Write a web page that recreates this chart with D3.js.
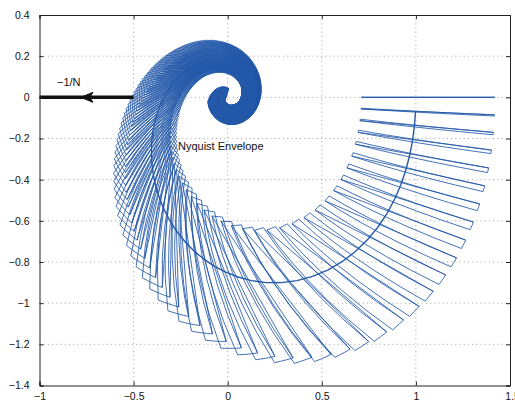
<!DOCTYPE html>
<html>
<head>
<meta charset="utf-8">
<script src="https://cdn.jsdelivr.net/npm/d3@7"></script>
<style>
  html, body { margin: 0; padding: 0; background: #fff; }
  svg { display: block; }
  text { font-family: "Liberation Sans", Arial, Helvetica, sans-serif; }
</style>
</head>
<body>
<div id="chart"></div>
<script>
// ---------------- data ----------------
const xTicks = [-1, -0.5, 0, 0.5, 1, 1.5];
const yTicks = [0.4, 0.2, 0, -0.2, -0.4, -0.6, -0.8, -1, -1.2, -1.4];
const xTickLabels = ["\u22121", "\u22120.5", "0", "0.5", "1", "1.5"];
const yTickLabels = ["0.4", "0.2", "0", "\u22120.2", "\u22120.4", "\u22120.6", "\u22120.8", "\u22121", "\u22121.2", "\u22121.4"];

// template frequencies (rad/s)
const freqs = [0,1,2,3,4,5,6,7,8,9,10,11,12,13,14,15,16,17,18,19,20,21,22,23,24,25,26,27,28,29,
30,31,32,33,34,35,36,37,38,39,40,41,42,43,44,45,46,47,48,49,50,51,52,53,54,55,56,57,58,59,
60,61,62,63,64,65,66,67,68,69,70,71,72,73,74,75,76,77,78,79,80,81,82,83,84,85,86,87,88,89,
90,91,92,93,94,95,96,97,98,99,100,101,102,103,104,105,106,107,108,109,110,111,112,113,114,115,116,117,118,119,
120,121,122,123,124,125,126,127,128,129,130,131,132,133,134,135,136,137,138,139,140,141,142,143,144,145,146,147,148,149,
150,151,152,153,154,155,156,157,158,159,160,161,162,163,164,165,166,167,168,169,170,171,172,173,174,175,176,177,178,179,
180,181,182,183,184,185,186,187,188,189,190,191,192,193,194,195,196,197,198,199,200,201,202,203,204,205,206,207,208,209,
210,211,212,213,214,215,216,217,218,219,220,221,222,223,224,225,226,227,228,229,230,231,232,233,234,235,236,237,238];

// uncertain plant  P = K e^{-s rho T} (1 + a sT) / (1 + 2 zeta sT + s^2 T^2)
const gainRange  = [0.71, 1.42];     // K, inner -> outer edge of a template
const lagRange   = [0.056, 0.045];   // T, inner -> outer edge of a template
const delayRatio = [0.63, 0.72];     // tau / T, min -> max
const zeroRatio = 0.8;               // a
const dampingRatio = 0.75;           // zeta
const nominal = { K: 1.0, T: 0.0505, rho: 0.675 };  // nominal plant

const locusX = [-1, -0.5];           // -1/N locus on the negative real axis
const locusY = [0, 0];
const arrowAt = -0.78;

// ---------------- layout ----------------
const W = 515, H = 403;
const mLeft = 39.5, mRight = 510, mTop = 15, mBottom = 385.5;

const svg = d3.select("#chart").append("svg").attr("width", W).attr("height", H);
const x = d3.scaleLinear().domain([-1, 1.5]).range([mLeft, mRight]);
const y = d3.scaleLinear().domain([-1.4, 0.4]).range([mBottom, mTop]);

svg.append("defs").append("clipPath").attr("id", "clip")
  .append("rect").attr("x", mLeft).attr("y", mTop).attr("width", mRight - mLeft).attr("height", mBottom - mTop);

const grid = svg.append("g").attr("stroke", "#8a8a8a").attr("stroke-width", 0.8).attr("stroke-dasharray", "1,3.2");
xTicks.slice(1, -1).forEach(v => grid.append("line").attr("x1", x(v)).attr("x2", x(v)).attr("y1", mTop).attr("y2", mBottom));
yTicks.slice(1, -1).forEach(v => grid.append("line").attr("x1", mLeft).attr("x2", mRight).attr("y1", y(v)).attr("y2", y(v)));

// ---------------- templates ----------------
function resp(w, K, T, rho) {
  const u = w * T;
  const dr = 1 - u * u, di = 2 * dampingRatio * u, den = dr * dr + di * di;
  const gRe = (dr + zeroRatio * u * di) / den, gIm = (zeroRatio * u * dr - di) / den;
  const c = Math.cos(rho * u), s = -Math.sin(rho * u);
  return [K * (gRe * c - gIm * s), K * (gRe * s + gIm * c)];
}
const paramsAt = s => [gainRange[0] * Math.pow(gainRange[1] / gainRange[0], s),
                       lagRange[0] + (lagRange[1] - lagRange[0]) * s];
const rhoAt = t => delayRatio[0] + (delayRatio[1] - delayRatio[0]) * t;
function templatePoints(w) {
  const pts = [], nS = 6;
  const nA = Math.max(2, Math.ceil(w * lagRange[0] * (delayRatio[1] - delayRatio[0]) / 0.04));
  for (let i = 0; i <= nS; i++) { const [K, T] = paramsAt(i / nS); pts.push(resp(w, K, T, rhoAt(0))); }
  for (let j = 1; j <= nA; j++) { const [K, T] = paramsAt(1); pts.push(resp(w, K, T, rhoAt(j / nA))); }
  for (let i = nS - 1; i >= 0; i--) { const [K, T] = paramsAt(i / nS); pts.push(resp(w, K, T, rhoAt(1))); }
  for (let j = nA - 1; j >= 0; j--) { const [K, T] = paramsAt(0); pts.push(resp(w, K, T, rhoAt(j / nA))); }
  return pts;
}
function diagonalPoints(w) {
  const [K0, T0] = paramsAt(0), [K1, T1] = paramsAt(1);
  return [resp(w, K0, T0, rhoAt(1)), resp(w, K1, T1, rhoAt(0))];
}
const line = d3.line().x(d => x(d[0])).y(d => y(d[1]));

const tg = svg.append("g").attr("clip-path", "url(#clip)")
  .attr("fill", "none").attr("stroke", "#2459a9").attr("stroke-width", 0.85).attr("stroke-linejoin", "round");
tg.selectAll("path.tpl").data(freqs).join("path").attr("class", "tpl").attr("d", w => line(templatePoints(w)));
tg.selectAll("path.diag").data(freqs).join("path").attr("class", "diag").attr("d", w => line(diagonalPoints(w)));
// nominal plant response through the template frequencies
tg.append("path").attr("class", "nominal")
  .attr("d", line(freqs.slice(1).map(w => resp(w, nominal.K, nominal.T, nominal.rho))))
  .attr("stroke-width", 1.4);

// ---------------- -1/N locus ----------------
svg.append("line")
  .attr("x1", x(locusX[0])).attr("x2", x(locusX[1])).attr("y1", y(locusY[0])).attr("y2", y(locusY[1]))
  .attr("stroke", "#111").attr("stroke-width", 3.5);
const ax = x(arrowAt), ay = y(0);
svg.append("path")
  .attr("d", `M${ax},${ay} L${ax + 12},${ay - 5} L${ax + 9},${ay} L${ax + 12},${ay + 5} Z`)
  .attr("fill", "#111").attr("stroke", "#111").attr("stroke-width", 1);

svg.append("text").attr("x", 57).attr("y", 86).attr("font-size", 11).attr("fill", "#111").text("\u22121/N");
svg.append("text").attr("x", 178).attr("y", 150).attr("font-size", 11).attr("fill", "#111").text("Nyquist Envelope");

// ---------------- axes ----------------
const axisColor = "#222";
const gx = svg.append("g").attr("transform", `translate(0,${mBottom})`)
  .call(d3.axisBottom(x).tickValues(xTicks).tickFormat((d, i) => xTickLabels[i]).tickSize(-4).tickPadding(7));
const gy = svg.append("g").attr("transform", `translate(${mLeft},0)`)
  .call(d3.axisLeft(y).tickValues(yTicks).tickFormat((d, i) => yTickLabels[i]).tickSize(-4).tickPadding(10));
const gt = svg.append("g").attr("transform", `translate(0,${mTop})`)
  .call(d3.axisTop(x).tickValues(xTicks).tickFormat("").tickSize(-4));
const gr = svg.append("g").attr("transform", `translate(${mRight},0)`)
  .call(d3.axisRight(y).tickValues(yTicks).tickFormat("").tickSize(-4));
[gx, gy, gt, gr].forEach(g => {
  g.selectAll(".domain").attr("stroke", axisColor).attr("stroke-width", 1);
  g.selectAll(".tick line").attr("stroke", axisColor);
  g.selectAll("text").attr("font-size", 10.5).attr("fill", "#111")
    .attr("font-family", "'Liberation Sans', Arial, Helvetica, sans-serif");
});
gx.selectAll(".tick text").filter((d, i) => i === xTicks.length - 1).attr("text-anchor", "end").attr("dx", "0.9em");
</script>
</body>
</html>
